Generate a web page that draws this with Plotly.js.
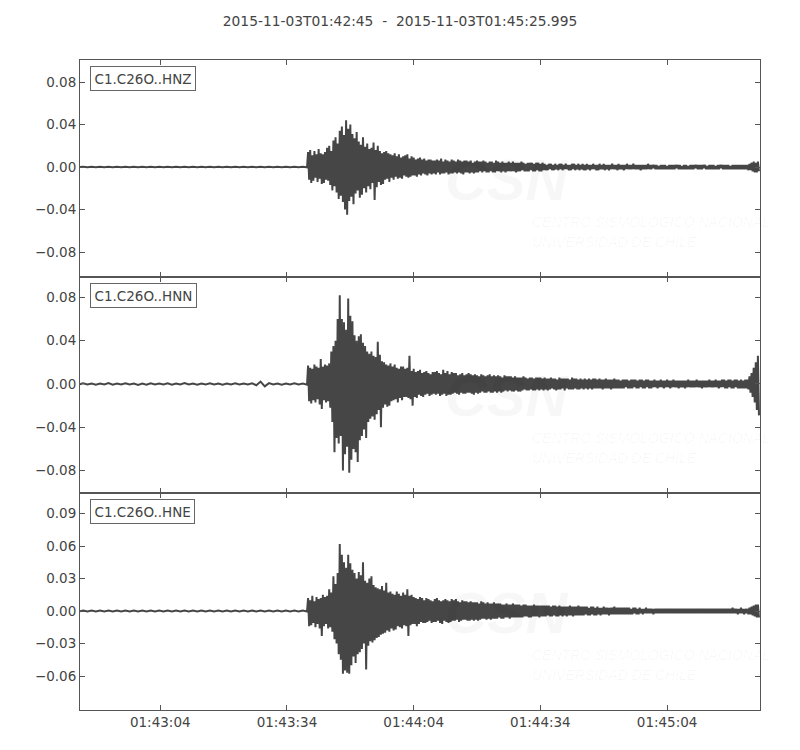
<!DOCTYPE html>
<html>
<head>
<meta charset="utf-8">
<script src="https://cdn.plot.ly/plotly-3.0.1.min.js"></script>
<style>html,body{margin:0;padding:0;background:#fff;}#chart{width:800px;height:750px;}</style>
</head>
<body>
<div id="chart"></div>
<script>
// Record start and sampling segments (seconds after start)
const recordStart = '2015-11-03 01:42:45';
const recordEnd = '2015-11-03 01:45:25.995';
const segStart = [-0.25, 54];
const segStep = [1, 0.25];
const segCount = [55, 428];

const channelNames = ['C1.C26O..HNZ', 'C1.C26O..HNN', 'C1.C26O..HNE'];
const plotTitle = '2015-11-03T01:42:45  -  2015-11-03T01:45:25.995';
const xTickStart = '2015-11-03 01:43:04';
const yTicksZ = [-0.08, -0.04, 0, 0.04, 0.08];
const yTicksN = [-0.08, -0.04, 0, 0.04, 0.08];
const yTicksE = [-0.06, -0.03, 0, 0.03, 0.06, 0.09];

// amplitudes in thousandths
const hnzMilli = [
-0.2,
0.3,-0.2,0.2,-0.3,0.2,-0.2,0.3,-0.2,0.2,-0.2,
0.2,-0.3,0.2,-0.2,0.3,-0.2,0.2,-0.2,0.2,-0.3,
0.3,-0.2,0.2,-0.2,0.2,-0.3,0.2,-0.2,0.3,-0.3,
0.2,-0.2,0.3,-0.2,0.2,-0.2,0.2,-0.3,0.2,-0.2,
0.3,-0.2,0.2,-0.2,0.2,-0.3,0.2,-0.2,0.3,-0.2,
0.2,-0.2,0.3,-0.3,
14,-12,16,-15,11,-13,15,-10,12,-14,
17,-11,13,-16,12,-15,14,-12,18,-13,
20,-17,15,-22,25,-18,28,-24,22,-30,
34,-27,38,-33,30,-40,44,-45,36,-32,
40,-28,31,-35,27,-25,33,-22,24,-29,
21,-26,28,-20,19,-24,22,-18,17,-21,
18,-15,23,-31,16,-19,20,-14,15,-17,
13,-16,14,-12,15,-11,13,-14,12,-10,
11,-12,13,-9,10,-11,12,-10,9,-11,
10,-8,11,-9,12,-10,8,-9,10,-8,
9,-8,7,-9,8,-7,9,-8,7,-6,
8,-7,6,-8,7,-6,7,-7,6,-6,
6,-7,7,-5,6,-7,8,-6,5,-6,
7,-5,6,-7,5,-6,7,-6,6,-5,
5,-6,7,-5,6,-6,5,-7,6,-5,
6,-5,5,-6,6,-5,4,-6,5,-5,
6,-5,5,-4,5,-5,6,-4,5,-5,
4,-5,5,-4,5,-5,4,-5,6,-4,
5,-4,4,-5,5,-4,4,-5,4,-4,
5,-4,4,-4,5,-4,4,-5,4,-4,
4,-4,5,-3,4,-4,3,-4,4,-4,
4,-3,4,-4,3,-4,4,-3,4,-4,
3,-4,4,-3,
3,-3,2,-3,3,-2,3,-3,2,-3,
3,-2,2,-3,3,-2,3,-3,2,-2,
3,-2,2,-3,2,-3,3,-2,3,-3,
2,-2,3,-3,2,-2,3,-3,2,-3,
3,-2,2,-3,2,-2,3,-2,2,-3,
2,-3,3,-2,2,-2,3,-3,2,-2,
2,-3,2,-2,3,-2,2,-2,2,-3,
3,-2,2,-2,2,-3,2,-2,3,-2,
2,-2,2,-2,3,-2,2,-2,2,-2,
2,-3,2,-2,2,-2,2,-2,3,-2,
2,-2,2,-1,2,-2,2,-2,1,-2,
2,-2,2,-2,2,-2,1,-2,2,-2,
2,-2,2,-2,2,-1,2,-2,2,-2,
1,-2,2,-2,2,-2,1,-2,2,-2,
2,-2,2,-1,2,-2,2,-2,2,-2,
2,-1,2,-2,1,-2,2,-2,2,-2,
2,-2,1,-2,2,-2,2,-1,2,-2,
2,-2,2,-2,2,-2,1,-2,2,-2,
2,-2,2,-2,2,-2,2,-2,2,-2,
2,-2,
2,-3,3,-3,4,-4,5,-5,4,-5,5,-4
];
const hnnMilli = [
-0.4,
0.6,-0.4,0.4,-0.6,0.4,-0.4,0.8,-0.6,0.4,-0.4,
0.6,-0.4,0.4,-0.8,0.4,-0.6,0.6,-0.4,0.4,-0.4,
0.6,-0.6,0.4,-0.4,0.8,-0.4,0.4,-0.6,0.4,-0.4,
0.6,-0.4,0.4,-0.6,0.4,-0.4,0.6,-0.4,0.4,-0.4,
0.6,-1.2,2.2,-2.2,0.8,-0.4,0.4,-0.6,0.4,-0.4,
0.6,-0.4,0.4,-0.6,
17,-16,15,-18,14,-15,18,-17,16,-14,
15,-19,23,-23,16,-15,18,-17,17,-16,
19,-22,30,-35,35,-63,40,-50,60,-55,
82,-48,60,-80,57,-65,50,-58,79,-82,
63,-70,58,-60,45,-63,40,-72,44,-52,
46,-48,38,-42,35,-50,30,-35,28,-32,
30,-30,26,-33,25,-28,39,-24,27,-40,
21,-22,20,-19,18,-21,17,-20,19,-16,
16,-15,18,-14,15,-17,14,-13,16,-15,
16,-12,14,-12,15,-13,26,-14,12,-20,
14,-12,11,-13,12,-10,13,-11,10,-12,
11,-10,12,-9,10,-11,9,-10,11,-9,
11,-10,12,-9,10,-11,9,-10,13,-9,
10,-11,12,-10,9,-10,11,-9,10,-8,
10,-9,8,-10,9,-8,10,-9,8,-9,
9,-8,10,-8,9,-9,8,-10,9,-8,
8,-9,7,-8,9,-7,8,-8,7,-8,
8,-7,9,-8,7,-8,8,-7,7,-8,
8,-7,7,-8,6,-7,8,-6,7,-7,
7,-6,7,-7,6,-7,7,-6,6,-7,
6,-7,6,-6,7,-5,6,-6,5,-6,
6,-5,6,-6,5,-6,6,-5,6,-6,
6,-5,5,-6,
6,-5,5,-6,5,-5,6,-4,5,-5,
5,-6,4,-5,6,-5,5,-4,5,-6,
5,-4,5,-5,4,-5,6,-5,5,-4,
5,-5,4,-5,5,-4,4,-5,5,-4,
4,-5,5,-4,4,-5,5,-4,5,-4,
4,-4,5,-4,4,-5,4,-4,5,-4,
4,-4,4,-5,4,-4,5,-4,4,-4,
4,-4,3,-4,4,-4,4,-3,4,-4,
3,-4,4,-4,4,-3,4,-4,3,-4,
4,-3,4,-4,3,-4,4,-3,4,-4,
3,-4,3,-3,4,-3,3,-4,3,-3,
4,-3,3,-4,3,-3,4,-3,3,-4,
3,-3,4,-3,3,-3,3,-4,3,-3,
3,-3,3,-4,3,-3,4,-3,3,-3,
3,-3,3,-3,4,-3,3,-3,3,-4,
3,-3,3,-3,3,-3,4,-3,3,-3,
3,-3,4,-3,3,-4,3,-3,4,-3,
4,-4,3,-4,4,-3,4,-4,3,-4,
4,-3,4,-4,3,-4,4,-4,3,-4,
4,-4,
4,-5,7,-8,10,-12,15,-17,20,-24,26,-29
];
const hneMilli = [
-0.4,
0.4,-0.4,0.4,-0.4,0.5,-0.4,0.4,-0.4,0.4,-0.5,
0.4,-0.4,0.4,-0.4,0.4,-0.4,0.5,-0.4,0.4,-0.4,
0.4,-0.5,0.4,-0.4,0.4,-0.4,0.4,-0.4,0.5,-0.4,
0.4,-0.4,0.4,-0.4,0.4,-0.5,0.4,-0.4,0.4,-0.4,
0.5,-0.4,0.4,-0.4,0.4,-0.4,0.4,-0.5,0.4,-0.4,
0.4,-0.4,0.4,-0.4,
12,-14,10,-13,14,-11,9,-15,13,-12,
11,-16,12,-23,15,-14,13,-12,14,-16,
20,-15,17,-19,32,-26,25,-30,35,-40,
62,-45,52,-58,45,-55,40,-57,52,-58,
44,-50,38,-42,35,-48,30,-40,36,-38,
33,-35,45,-30,28,-54,26,-32,30,-28,
32,-29,24,-27,22,-25,21,-24,20,-22,
23,-21,19,-20,26,-18,17,-19,18,-16,
16,-18,15,-17,18,-14,16,-15,14,-16,
17,-13,15,-14,20,-23,14,-13,15,-12,
13,-12,12,-14,11,-12,13,-10,12,-11,
10,-11,12,-10,11,-9,10,-11,9,-10,
11,-10,12,-9,10,-11,9,-12,10,-9,
11,-10,10,-11,9,-10,11,-9,10,-9,
11,-8,9,-10,8,-9,10,-8,9,-8,
9,-9,8,-9,9,-8,8,-9,8,-8,
8,-9,7,-8,9,-7,8,-7,7,-8,
8,-7,7,-8,7,-7,8,-7,7,-7,
7,-6,7,-7,6,-7,6,-6,7,-6,
6,-7,6,-6,7,-6,6,-6,6,-6,
6,-6,5,-6,6,-5,6,-5,5,-6,
5,-6,5,-5,6,-5,5,-5,5,-6,
5,-5,5,-5,
5,-5,5,-4,5,-5,4,-5,5,-4,
5,-5,4,-5,5,-4,4,-5,4,-4,
4,-5,4,-4,5,-4,4,-5,4,-4,
4,-4,5,-4,4,-4,4,-4,4,-3,
4,-4,3,-4,4,-3,4,-4,3,-4,
4,-3,3,-4,3,-3,4,-3,3,-3,
3,-4,3,-3,3,-3,4,-3,3,-3,
3,-3,3,-3,3,-3,3,-3,3,-3,
3,-3,2,-3,3,-2,3,-3,2,-3,
3,-2,2,-3,2,-2,3,-2,2,-2,
2,-2,2,-3,2,-2,2,-2,2,-2,
2,-2,2,-2,2,-2,2,-2,2,-2,
2,-2,2,-2,2,-2,2,-2,2,-2,
2,-2,2,-2,2,-2,2,-2,2,-2,
2,-2,2,-2,2,-2,2,-2,2,-2,
2,-2,2,-2,2,-2,2,-2,2,-2,
2,-2,2,-2,2,-2,2,-2,2,-2,
2,-2,2,-2,2,-2,2,-2,3,-2,
2,-2,2,-3,2,-2,3,-2,2,-3,
2,-2,
2,-3,3,-3,4,-4,5,-5,6,-6,6,-6
];

// build sample times from the sampling segments
const baseMs = Date.UTC(2015, 10, 3, 1, 42, 45);
const times = [];
for (let s = 0; s < segStart.length; s++) {
  for (let k = 0; k < segCount[s]; k++) {
    const ms = baseMs + (segStart[s] + k * segStep[s]) * 1000;
    times.push(new Date(ms).toISOString().replace('T', ' ').replace('Z', ''));
  }
}
const toUnits = arr => arr.map(v => v / 1000);

const lineStyle = {color: '#464646', width: 2};
const traces = [
  {x: times, y: toUnits(hnzMilli), xaxis: 'x', yaxis: 'y', type: 'scatter', mode: 'lines', line: lineStyle, name: channelNames[0]},
  {x: times, y: toUnits(hnnMilli), xaxis: 'x2', yaxis: 'y2', type: 'scatter', mode: 'lines', line: lineStyle, name: channelNames[1]},
  {x: times, y: toUnits(hneMilli), xaxis: 'x3', yaxis: 'y3', type: 'scatter', mode: 'lines', line: lineStyle, name: channelNames[2]}
];

const font = 'DejaVu Sans, sans-serif';
const base = {
  showline: true, linecolor: '#555', linewidth: 1, mirror: 'allticks',
  ticks: 'inside', ticklen: 5, tickcolor: '#555', tickwidth: 1,
  zeroline: false, showgrid: false,
  tickfont: {family: font, size: 13.5, color: '#444'}
};
const xBase = Object.assign({}, base, {
  type: 'date', range: [recordStart, recordEnd], tick0: xTickStart, dtick: 30000,
  tickformat: '%H:%M:%S'
});
const d1 = 217 / 650, d2 = 433 / 650;

const annotations = [];
const axesRefs = [['x', 'y'], ['x2', 'y2'], ['x3', 'y3']];
axesRefs.forEach((r, i) => {
  annotations.push({
    text: channelNames[i], xref: r[0] + ' domain', yref: r[1] + ' domain',
    x: 0.0147, y: 0.972, xanchor: 'left', yanchor: 'top', showarrow: false,
    font: {family: font, size: 13.5, color: '#444'},
    bordercolor: '#666', borderwidth: 1, borderpad: 3.5, bgcolor: '#fff'
  });
  annotations.push({
    text: '<b><i>CSN</i></b>', xref: r[0] + ' domain', yref: r[1] + ' domain',
    x: 0.628, y: 0.45, xanchor: 'center', yanchor: 'middle', showarrow: false,
    font: {family: 'Liberation Sans, sans-serif', size: 58, color: 'rgba(0,0,0,0.03)'}
  });
  annotations.push({
    text: '<i>CENTRO SISMOLÓGICO NACIONAL</i>', xref: r[0] + ' domain', yref: r[1] + ' domain',
    x: 0.662, y: 0.255, xanchor: 'left', yanchor: 'middle', showarrow: false,
    font: {family: 'Liberation Sans, sans-serif', size: 14, color: 'rgba(0,0,0,0.035)'}
  });
  annotations.push({
    text: '<i>UNIVERSIDAD DE CHILE</i>', xref: r[0] + ' domain', yref: r[1] + ' domain',
    x: 0.662, y: 0.16, xanchor: 'left', yanchor: 'middle', showarrow: false,
    font: {family: 'Liberation Sans, sans-serif', size: 14, color: 'rgba(0,0,0,0.035)'}
  });
});

const layout = {
  width: 800, height: 750,
  margin: {l: 80, r: 40, t: 60, b: 40},
  paper_bgcolor: '#fff', plot_bgcolor: '#fff',
  showlegend: false,
  title: {text: plotTitle, x: 0.5, xref: 'container', xanchor: 'center',
          y: 1 - 21 / 750, yref: 'container', yanchor: 'middle',
          font: {family: font, size: 13.8, color: '#444'}},
  xaxis: Object.assign({}, xBase, {anchor: 'y', showticklabels: false}),
  xaxis2: Object.assign({}, xBase, {anchor: 'y2', matches: 'x', showticklabels: false}),
  xaxis3: Object.assign({}, xBase, {anchor: 'y3', matches: 'x', showticklabels: true}),
  yaxis: Object.assign({}, base, {domain: [d2, 1], range: [-0.1035, 0.1007], tickvals: yTicksZ, tickformat: '.2f'}),
  yaxis2: Object.assign({}, base, {domain: [d1, d2], range: [-0.1007, 0.0988], tickvals: yTicksN, tickformat: '.2f'}),
  yaxis3: Object.assign({}, base, {domain: [0, d1], range: [-0.0914, 0.109], tickvals: yTicksE, tickformat: '.2f'}),
  annotations: annotations
};

Plotly.newPlot('chart', traces, layout, {staticPlot: true, displayModeBar: false});
</script>
</body>
</html>
